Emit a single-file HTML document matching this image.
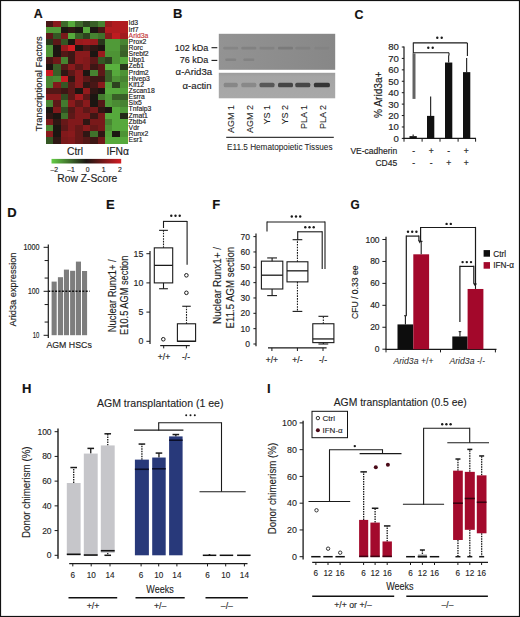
<!DOCTYPE html>
<html><head><meta charset="utf-8"><title>Figure</title><style>html,body{margin:0;padding:0;background:#fff;}body{width:520px;height:617px;overflow:hidden;}svg text{font-family:"Liberation Sans", sans-serif;}</style></head><body>
<svg width="520" height="617" viewBox="0 0 520 617" font-family='"Liberation Sans", sans-serif' fill="#1e1e1e" style="display:block">
<rect x="0.00" y="0.00" width="520.00" height="617.00" fill="#ffffff"/>
<text x="33.80" y="17.90" font-size="13" font-weight="bold" fill="#111" textLength="8.92" lengthAdjust="spacingAndGlyphs" stroke="#111" stroke-width="0.16">A</text>
<text transform="translate(42.00,83.70) rotate(-90)" font-size="9.4" text-anchor="middle" stroke="#1e1e1e" stroke-width="0.16">Transcriptional Factors</text>
<g shape-rendering="crispEdges">
<rect x="45.70" y="20.60" width="8.02" height="6.74" fill="#481716"/>
<rect x="53.12" y="20.60" width="8.02" height="6.74" fill="#891a1c"/>
<rect x="60.54" y="20.60" width="8.02" height="6.74" fill="#3d692a"/>
<rect x="67.96" y="20.60" width="8.02" height="6.74" fill="#56a93c"/>
<rect x="75.38" y="20.60" width="8.02" height="6.74" fill="#3d692a"/>
<rect x="82.80" y="20.60" width="8.02" height="6.74" fill="#2d421f"/>
<rect x="90.22" y="20.60" width="8.02" height="6.74" fill="#396027"/>
<rect x="97.64" y="20.60" width="8.02" height="6.74" fill="#478331"/>
<rect x="105.06" y="20.60" width="8.02" height="6.74" fill="#991a1d"/>
<rect x="112.48" y="20.60" width="8.02" height="6.74" fill="#b01b1f"/>
<rect x="119.90" y="20.60" width="8.02" height="6.74" fill="#b01b1f"/>
<rect x="45.70" y="26.74" width="8.02" height="6.74" fill="#509a38"/>
<rect x="53.12" y="26.74" width="8.02" height="6.74" fill="#509a38"/>
<rect x="60.54" y="26.74" width="8.02" height="6.74" fill="#1c1612"/>
<rect x="67.96" y="26.74" width="8.02" height="6.74" fill="#2f1714"/>
<rect x="75.38" y="26.74" width="8.02" height="6.74" fill="#1c1612"/>
<rect x="82.80" y="26.74" width="8.02" height="6.74" fill="#56a93c"/>
<rect x="90.22" y="26.74" width="8.02" height="6.74" fill="#1c1612"/>
<rect x="97.64" y="26.74" width="8.02" height="6.74" fill="#481716"/>
<rect x="105.06" y="26.74" width="8.02" height="6.74" fill="#b01b1f"/>
<rect x="112.48" y="26.74" width="8.02" height="6.74" fill="#b01b1f"/>
<rect x="119.90" y="26.74" width="8.02" height="6.74" fill="#b01b1f"/>
<rect x="45.70" y="32.88" width="8.02" height="6.74" fill="#5d1818"/>
<rect x="53.12" y="32.88" width="8.02" height="6.74" fill="#355724"/>
<rect x="60.54" y="32.88" width="8.02" height="6.74" fill="#79191a"/>
<rect x="67.96" y="32.88" width="8.02" height="6.74" fill="#56a93c"/>
<rect x="75.38" y="32.88" width="8.02" height="6.74" fill="#396027"/>
<rect x="82.80" y="32.88" width="8.02" height="6.74" fill="#2d421f"/>
<rect x="90.22" y="32.88" width="8.02" height="6.74" fill="#478331"/>
<rect x="97.64" y="32.88" width="8.02" height="6.74" fill="#40722c"/>
<rect x="105.06" y="32.88" width="8.02" height="6.74" fill="#891a1c"/>
<rect x="112.48" y="32.88" width="8.02" height="6.74" fill="#bf1b20"/>
<rect x="119.90" y="32.88" width="8.02" height="6.74" fill="#a11a1e"/>
<rect x="45.70" y="39.02" width="8.02" height="6.74" fill="#29371b"/>
<rect x="53.12" y="39.02" width="8.02" height="6.74" fill="#5d1818"/>
<rect x="60.54" y="39.02" width="8.02" height="6.74" fill="#355724"/>
<rect x="67.96" y="39.02" width="8.02" height="6.74" fill="#1c1612"/>
<rect x="75.38" y="39.02" width="8.02" height="6.74" fill="#991a1d"/>
<rect x="82.80" y="39.02" width="8.02" height="6.74" fill="#a11a1e"/>
<rect x="90.22" y="39.02" width="8.02" height="6.74" fill="#991a1d"/>
<rect x="97.64" y="39.02" width="8.02" height="6.74" fill="#29371b"/>
<rect x="105.06" y="39.02" width="8.02" height="6.74" fill="#509a38"/>
<rect x="112.48" y="39.02" width="8.02" height="6.74" fill="#509a38"/>
<rect x="119.90" y="39.02" width="8.02" height="6.74" fill="#478331"/>
<rect x="45.70" y="45.16" width="8.02" height="6.74" fill="#4d9335"/>
<rect x="53.12" y="45.16" width="8.02" height="6.74" fill="#1c1612"/>
<rect x="60.54" y="45.16" width="8.02" height="6.74" fill="#991a1d"/>
<rect x="67.96" y="45.16" width="8.02" height="6.74" fill="#d41c22"/>
<rect x="75.38" y="45.16" width="8.02" height="6.74" fill="#1c1612"/>
<rect x="82.80" y="45.16" width="8.02" height="6.74" fill="#481716"/>
<rect x="90.22" y="45.16" width="8.02" height="6.74" fill="#2f1714"/>
<rect x="97.64" y="45.16" width="8.02" height="6.74" fill="#1c1612"/>
<rect x="105.06" y="45.16" width="8.02" height="6.74" fill="#509a38"/>
<rect x="112.48" y="45.16" width="8.02" height="6.74" fill="#509a38"/>
<rect x="119.90" y="45.16" width="8.02" height="6.74" fill="#3d692a"/>
<rect x="45.70" y="51.30" width="8.02" height="6.74" fill="#4d9335"/>
<rect x="53.12" y="51.30" width="8.02" height="6.74" fill="#1c1612"/>
<rect x="60.54" y="51.30" width="8.02" height="6.74" fill="#531817"/>
<rect x="67.96" y="51.30" width="8.02" height="6.74" fill="#3d1715"/>
<rect x="75.38" y="51.30" width="8.02" height="6.74" fill="#891a1c"/>
<rect x="82.80" y="51.30" width="8.02" height="6.74" fill="#891a1c"/>
<rect x="90.22" y="51.30" width="8.02" height="6.74" fill="#1c1612"/>
<rect x="97.64" y="51.30" width="8.02" height="6.74" fill="#991a1d"/>
<rect x="105.06" y="51.30" width="8.02" height="6.74" fill="#4d9335"/>
<rect x="112.48" y="51.30" width="8.02" height="6.74" fill="#4d9335"/>
<rect x="119.90" y="51.30" width="8.02" height="6.74" fill="#396027"/>
<rect x="45.70" y="57.44" width="8.02" height="6.74" fill="#481716"/>
<rect x="53.12" y="57.44" width="8.02" height="6.74" fill="#701919"/>
<rect x="60.54" y="57.44" width="8.02" height="6.74" fill="#478331"/>
<rect x="67.96" y="57.44" width="8.02" height="6.74" fill="#3d1715"/>
<rect x="75.38" y="57.44" width="8.02" height="6.74" fill="#891a1c"/>
<rect x="82.80" y="57.44" width="8.02" height="6.74" fill="#81191b"/>
<rect x="90.22" y="57.44" width="8.02" height="6.74" fill="#5d1818"/>
<rect x="97.64" y="57.44" width="8.02" height="6.74" fill="#355724"/>
<rect x="105.06" y="57.44" width="8.02" height="6.74" fill="#2d421f"/>
<rect x="112.48" y="57.44" width="8.02" height="6.74" fill="#4d9335"/>
<rect x="119.90" y="57.44" width="8.02" height="6.74" fill="#56a93c"/>
<rect x="45.70" y="63.58" width="8.02" height="6.74" fill="#1c1612"/>
<rect x="53.12" y="63.58" width="8.02" height="6.74" fill="#396027"/>
<rect x="60.54" y="63.58" width="8.02" height="6.74" fill="#531817"/>
<rect x="67.96" y="63.58" width="8.02" height="6.74" fill="#891a1c"/>
<rect x="75.38" y="63.58" width="8.02" height="6.74" fill="#5d1818"/>
<rect x="82.80" y="63.58" width="8.02" height="6.74" fill="#81191b"/>
<rect x="90.22" y="63.58" width="8.02" height="6.74" fill="#3d1715"/>
<rect x="97.64" y="63.58" width="8.02" height="6.74" fill="#5d1818"/>
<rect x="105.06" y="63.58" width="8.02" height="6.74" fill="#59b13e"/>
<rect x="112.48" y="63.58" width="8.02" height="6.74" fill="#59b13e"/>
<rect x="119.90" y="63.58" width="8.02" height="6.74" fill="#29371b"/>
<rect x="45.70" y="69.72" width="8.02" height="6.74" fill="#c61c21"/>
<rect x="53.12" y="69.72" width="8.02" height="6.74" fill="#396027"/>
<rect x="60.54" y="69.72" width="8.02" height="6.74" fill="#2f1714"/>
<rect x="67.96" y="69.72" width="8.02" height="6.74" fill="#5d1818"/>
<rect x="75.38" y="69.72" width="8.02" height="6.74" fill="#891a1c"/>
<rect x="82.80" y="69.72" width="8.02" height="6.74" fill="#1c1612"/>
<rect x="90.22" y="69.72" width="8.02" height="6.74" fill="#478331"/>
<rect x="97.64" y="69.72" width="8.02" height="6.74" fill="#5d1818"/>
<rect x="105.06" y="69.72" width="8.02" height="6.74" fill="#396027"/>
<rect x="112.48" y="69.72" width="8.02" height="6.74" fill="#56a93c"/>
<rect x="119.90" y="69.72" width="8.02" height="6.74" fill="#4d9335"/>
<rect x="45.70" y="75.86" width="8.02" height="6.74" fill="#478331"/>
<rect x="53.12" y="75.86" width="8.02" height="6.74" fill="#4a8b33"/>
<rect x="60.54" y="75.86" width="8.02" height="6.74" fill="#c61c21"/>
<rect x="67.96" y="75.86" width="8.02" height="6.74" fill="#2f1714"/>
<rect x="75.38" y="75.86" width="8.02" height="6.74" fill="#891a1c"/>
<rect x="82.80" y="75.86" width="8.02" height="6.74" fill="#5d1818"/>
<rect x="90.22" y="75.86" width="8.02" height="6.74" fill="#3d1715"/>
<rect x="97.64" y="75.86" width="8.02" height="6.74" fill="#3d1715"/>
<rect x="105.06" y="75.86" width="8.02" height="6.74" fill="#396027"/>
<rect x="112.48" y="75.86" width="8.02" height="6.74" fill="#4d9335"/>
<rect x="119.90" y="75.86" width="8.02" height="6.74" fill="#478331"/>
<rect x="45.70" y="82.00" width="8.02" height="6.74" fill="#478331"/>
<rect x="53.12" y="82.00" width="8.02" height="6.74" fill="#81191b"/>
<rect x="60.54" y="82.00" width="8.02" height="6.74" fill="#355724"/>
<rect x="67.96" y="82.00" width="8.02" height="6.74" fill="#5d1818"/>
<rect x="75.38" y="82.00" width="8.02" height="6.74" fill="#891a1c"/>
<rect x="82.80" y="82.00" width="8.02" height="6.74" fill="#2f1714"/>
<rect x="90.22" y="82.00" width="8.02" height="6.74" fill="#481716"/>
<rect x="97.64" y="82.00" width="8.02" height="6.74" fill="#891a1c"/>
<rect x="105.06" y="82.00" width="8.02" height="6.74" fill="#53a23a"/>
<rect x="112.48" y="82.00" width="8.02" height="6.74" fill="#2d421f"/>
<rect x="119.90" y="82.00" width="8.02" height="6.74" fill="#4d9335"/>
<rect x="45.70" y="88.14" width="8.02" height="6.74" fill="#531817"/>
<rect x="53.12" y="88.14" width="8.02" height="6.74" fill="#531817"/>
<rect x="60.54" y="88.14" width="8.02" height="6.74" fill="#3d1715"/>
<rect x="67.96" y="88.14" width="8.02" height="6.74" fill="#5d1818"/>
<rect x="75.38" y="88.14" width="8.02" height="6.74" fill="#1c1612"/>
<rect x="82.80" y="88.14" width="8.02" height="6.74" fill="#921a1c"/>
<rect x="90.22" y="88.14" width="8.02" height="6.74" fill="#2f1714"/>
<rect x="97.64" y="88.14" width="8.02" height="6.74" fill="#1c1612"/>
<rect x="105.06" y="88.14" width="8.02" height="6.74" fill="#56a93c"/>
<rect x="112.48" y="88.14" width="8.02" height="6.74" fill="#56a93c"/>
<rect x="119.90" y="88.14" width="8.02" height="6.74" fill="#53a23a"/>
<rect x="45.70" y="94.28" width="8.02" height="6.74" fill="#891a1c"/>
<rect x="53.12" y="94.28" width="8.02" height="6.74" fill="#891a1c"/>
<rect x="60.54" y="94.28" width="8.02" height="6.74" fill="#324d22"/>
<rect x="67.96" y="94.28" width="8.02" height="6.74" fill="#5d1818"/>
<rect x="75.38" y="94.28" width="8.02" height="6.74" fill="#a11a1e"/>
<rect x="82.80" y="94.28" width="8.02" height="6.74" fill="#5d1818"/>
<rect x="90.22" y="94.28" width="8.02" height="6.74" fill="#1c1612"/>
<rect x="97.64" y="94.28" width="8.02" height="6.74" fill="#447b2f"/>
<rect x="105.06" y="94.28" width="8.02" height="6.74" fill="#509a38"/>
<rect x="112.48" y="94.28" width="8.02" height="6.74" fill="#396027"/>
<rect x="119.90" y="94.28" width="8.02" height="6.74" fill="#396027"/>
<rect x="45.70" y="100.42" width="8.02" height="6.74" fill="#478331"/>
<rect x="53.12" y="100.42" width="8.02" height="6.74" fill="#5d1818"/>
<rect x="60.54" y="100.42" width="8.02" height="6.74" fill="#447b2f"/>
<rect x="67.96" y="100.42" width="8.02" height="6.74" fill="#891a1c"/>
<rect x="75.38" y="100.42" width="8.02" height="6.74" fill="#5d1818"/>
<rect x="82.80" y="100.42" width="8.02" height="6.74" fill="#891a1c"/>
<rect x="90.22" y="100.42" width="8.02" height="6.74" fill="#1c1612"/>
<rect x="97.64" y="100.42" width="8.02" height="6.74" fill="#531817"/>
<rect x="105.06" y="100.42" width="8.02" height="6.74" fill="#509a38"/>
<rect x="112.48" y="100.42" width="8.02" height="6.74" fill="#4a8b33"/>
<rect x="119.90" y="100.42" width="8.02" height="6.74" fill="#478331"/>
<rect x="45.70" y="106.56" width="8.02" height="6.74" fill="#1c1612"/>
<rect x="53.12" y="106.56" width="8.02" height="6.74" fill="#81191b"/>
<rect x="60.54" y="106.56" width="8.02" height="6.74" fill="#324d22"/>
<rect x="67.96" y="106.56" width="8.02" height="6.74" fill="#531817"/>
<rect x="75.38" y="106.56" width="8.02" height="6.74" fill="#81191b"/>
<rect x="82.80" y="106.56" width="8.02" height="6.74" fill="#5d1818"/>
<rect x="90.22" y="106.56" width="8.02" height="6.74" fill="#79191a"/>
<rect x="97.64" y="106.56" width="8.02" height="6.74" fill="#2f1714"/>
<rect x="105.06" y="106.56" width="8.02" height="6.74" fill="#1c1612"/>
<rect x="112.48" y="106.56" width="8.02" height="6.74" fill="#56a93c"/>
<rect x="119.90" y="106.56" width="8.02" height="6.74" fill="#509a38"/>
<rect x="45.70" y="112.70" width="8.02" height="6.74" fill="#2f1714"/>
<rect x="53.12" y="112.70" width="8.02" height="6.74" fill="#1c1612"/>
<rect x="60.54" y="112.70" width="8.02" height="6.74" fill="#40722c"/>
<rect x="67.96" y="112.70" width="8.02" height="6.74" fill="#5d1818"/>
<rect x="75.38" y="112.70" width="8.02" height="6.74" fill="#81191b"/>
<rect x="82.80" y="112.70" width="8.02" height="6.74" fill="#81191b"/>
<rect x="90.22" y="112.70" width="8.02" height="6.74" fill="#3d1715"/>
<rect x="97.64" y="112.70" width="8.02" height="6.74" fill="#79191a"/>
<rect x="105.06" y="112.70" width="8.02" height="6.74" fill="#56a93c"/>
<rect x="112.48" y="112.70" width="8.02" height="6.74" fill="#56a93c"/>
<rect x="119.90" y="112.70" width="8.02" height="6.74" fill="#242917"/>
<rect x="45.70" y="118.84" width="8.02" height="6.74" fill="#79191a"/>
<rect x="53.12" y="118.84" width="8.02" height="6.74" fill="#2f1714"/>
<rect x="60.54" y="118.84" width="8.02" height="6.74" fill="#671818"/>
<rect x="67.96" y="118.84" width="8.02" height="6.74" fill="#81191b"/>
<rect x="75.38" y="118.84" width="8.02" height="6.74" fill="#81191b"/>
<rect x="82.80" y="118.84" width="8.02" height="6.74" fill="#2f1714"/>
<rect x="90.22" y="118.84" width="8.02" height="6.74" fill="#79191a"/>
<rect x="97.64" y="118.84" width="8.02" height="6.74" fill="#79191a"/>
<rect x="105.06" y="118.84" width="8.02" height="6.74" fill="#478331"/>
<rect x="112.48" y="118.84" width="8.02" height="6.74" fill="#56a93c"/>
<rect x="119.90" y="118.84" width="8.02" height="6.74" fill="#56a93c"/>
<rect x="45.70" y="124.98" width="8.02" height="6.74" fill="#478331"/>
<rect x="53.12" y="124.98" width="8.02" height="6.74" fill="#1c1612"/>
<rect x="60.54" y="124.98" width="8.02" height="6.74" fill="#5d1818"/>
<rect x="67.96" y="124.98" width="8.02" height="6.74" fill="#81191b"/>
<rect x="75.38" y="124.98" width="8.02" height="6.74" fill="#671818"/>
<rect x="82.80" y="124.98" width="8.02" height="6.74" fill="#891a1c"/>
<rect x="90.22" y="124.98" width="8.02" height="6.74" fill="#671818"/>
<rect x="97.64" y="124.98" width="8.02" height="6.74" fill="#79191a"/>
<rect x="105.06" y="124.98" width="8.02" height="6.74" fill="#4d9335"/>
<rect x="112.48" y="124.98" width="8.02" height="6.74" fill="#56a93c"/>
<rect x="119.90" y="124.98" width="8.02" height="6.74" fill="#56a93c"/>
<rect x="45.70" y="131.12" width="8.02" height="6.74" fill="#891a1c"/>
<rect x="53.12" y="131.12" width="8.02" height="6.74" fill="#1c1612"/>
<rect x="60.54" y="131.12" width="8.02" height="6.74" fill="#81191b"/>
<rect x="67.96" y="131.12" width="8.02" height="6.74" fill="#891a1c"/>
<rect x="75.38" y="131.12" width="8.02" height="6.74" fill="#671818"/>
<rect x="82.80" y="131.12" width="8.02" height="6.74" fill="#2f1714"/>
<rect x="90.22" y="131.12" width="8.02" height="6.74" fill="#40722c"/>
<rect x="97.64" y="131.12" width="8.02" height="6.74" fill="#2f1714"/>
<rect x="105.06" y="131.12" width="8.02" height="6.74" fill="#53a23a"/>
<rect x="112.48" y="131.12" width="8.02" height="6.74" fill="#1c1612"/>
<rect x="119.90" y="131.12" width="8.02" height="6.74" fill="#4d9335"/>
<rect x="45.70" y="137.26" width="8.02" height="6.74" fill="#355724"/>
<rect x="53.12" y="137.26" width="8.02" height="6.74" fill="#2f1714"/>
<rect x="60.54" y="137.26" width="8.02" height="6.74" fill="#79191a"/>
<rect x="67.96" y="137.26" width="8.02" height="6.74" fill="#81191b"/>
<rect x="75.38" y="137.26" width="8.02" height="6.74" fill="#671818"/>
<rect x="82.80" y="137.26" width="8.02" height="6.74" fill="#531817"/>
<rect x="90.22" y="137.26" width="8.02" height="6.74" fill="#3d1715"/>
<rect x="97.64" y="137.26" width="8.02" height="6.74" fill="#701919"/>
<rect x="105.06" y="137.26" width="8.02" height="6.74" fill="#56a93c"/>
<rect x="112.48" y="137.26" width="8.02" height="6.74" fill="#56a93c"/>
<rect x="119.90" y="137.26" width="8.02" height="6.74" fill="#56a93c"/>
</g>
<text x="128.60" y="25.47" font-size="6.8" stroke="#1e1e1e" stroke-width="0.16">Id3</text>
<text x="128.60" y="31.61" font-size="6.8" stroke="#1e1e1e" stroke-width="0.16">Irf7</text>
<text x="128.60" y="37.75" font-size="6.8" fill="#c83a3a" stroke="#c83a3a" stroke-width="0.16">Arid3a</text>
<text x="128.60" y="43.89" font-size="6.8" stroke="#1e1e1e" stroke-width="0.16">Prox2</text>
<text x="128.60" y="50.03" font-size="6.8" stroke="#1e1e1e" stroke-width="0.16">Rorc</text>
<text x="128.60" y="56.17" font-size="6.8" stroke="#1e1e1e" stroke-width="0.16">Srebf2</text>
<text x="128.60" y="62.31" font-size="6.8" stroke="#1e1e1e" stroke-width="0.16">Ubp1</text>
<text x="128.60" y="68.45" font-size="6.8" stroke="#1e1e1e" stroke-width="0.16">Zeb1</text>
<text x="128.60" y="74.59" font-size="6.8" stroke="#1e1e1e" stroke-width="0.16">Prdm2</text>
<text x="128.60" y="80.73" font-size="6.8" stroke="#1e1e1e" stroke-width="0.16">Hivep3</text>
<text x="128.60" y="86.87" font-size="6.8" stroke="#1e1e1e" stroke-width="0.16">Klf12</text>
<text x="128.60" y="93.01" font-size="6.8" stroke="#1e1e1e" stroke-width="0.16">Zscan18</text>
<text x="128.60" y="99.15" font-size="6.8" stroke="#1e1e1e" stroke-width="0.16">Esrra</text>
<text x="128.60" y="105.29" font-size="6.8" stroke="#1e1e1e" stroke-width="0.16">Six5</text>
<text x="128.60" y="111.43" font-size="6.8" stroke="#1e1e1e" stroke-width="0.16">Tnfaip3</text>
<text x="128.60" y="117.57" font-size="6.8" stroke="#1e1e1e" stroke-width="0.16">Zmat1</text>
<text x="128.60" y="123.71" font-size="6.8" stroke="#1e1e1e" stroke-width="0.16">Zbtb4</text>
<text x="128.60" y="129.85" font-size="6.8" stroke="#1e1e1e" stroke-width="0.16">Vdr</text>
<text x="128.60" y="135.99" font-size="6.8" stroke="#1e1e1e" stroke-width="0.16">Runx2</text>
<text x="128.60" y="142.13" font-size="6.8" stroke="#1e1e1e" stroke-width="0.16">Esr1</text>
<text x="75.00" y="154.90" font-size="10.3" text-anchor="middle" stroke="#1e1e1e" stroke-width="0.16">Ctrl</text>
<text x="117.70" y="154.90" font-size="10.3" text-anchor="middle" stroke="#1e1e1e" stroke-width="0.16">IFNα</text>
<defs><linearGradient id="gk" x1="0" x2="1" y1="0" y2="0"><stop offset="0" stop-color="#64cd46"/><stop offset="0.5" stop-color="#1c1612"/><stop offset="1" stop-color="#d41c22"/></linearGradient></defs>
<rect x="51.50" y="158.90" width="69.70" height="4.60" fill="url(#gk)"/>
<text x="54.20" y="171.50" font-size="6.8" text-anchor="middle" stroke="#1e1e1e" stroke-width="0.16">–2</text>
<text x="71.10" y="171.50" font-size="6.8" text-anchor="middle" stroke="#1e1e1e" stroke-width="0.16">–1</text>
<text x="87.70" y="171.50" font-size="6.8" text-anchor="middle" stroke="#1e1e1e" stroke-width="0.16">0</text>
<text x="103.60" y="171.50" font-size="6.8" text-anchor="middle" stroke="#1e1e1e" stroke-width="0.16">1</text>
<text x="120.00" y="171.50" font-size="6.8" text-anchor="middle" stroke="#1e1e1e" stroke-width="0.16">2</text>
<text x="87.30" y="182.30" font-size="10.3" text-anchor="middle" stroke="#1e1e1e" stroke-width="0.16">Row Z-Score</text>
<text x="173.00" y="17.90" font-size="13" font-weight="bold" fill="#111" stroke="#111" stroke-width="0.16">B</text>
<defs><linearGradient id="b1" x1="0" x2="1" y1="0" y2="0"><stop offset="0" stop-color="#939393"/><stop offset="0.5" stop-color="#8d8d8d"/><stop offset="1" stop-color="#878787"/></linearGradient><linearGradient id="b2" x1="0" x2="0" y1="0" y2="1"><stop offset="0" stop-color="#9c9c9c"/><stop offset="0.15" stop-color="#a5a5a5"/><stop offset="1" stop-color="#a8a8a8"/></linearGradient></defs>
<rect x="218.80" y="33.80" width="116.40" height="36.00" fill="url(#b1)"/>
<rect x="218.80" y="72.80" width="116.40" height="25.50" fill="url(#b2)"/>
<defs><filter id="bl" x="-20%" y="-100%" width="140%" height="300%"><feGaussianBlur stdDeviation="0.7"/></filter></defs>
<g filter="url(#bl)">
<rect x="223.70" y="82.7" width="14" height="4.6" rx="1.5" fill="#878787"/>
<rect x="241.30" y="82.7" width="15" height="4.6" rx="1.5" fill="#898989"/>
<rect x="259.50" y="82.7" width="15" height="4.6" rx="1.5" fill="#585858"/>
<rect x="278.00" y="82.7" width="15" height="4.6" rx="1.5" fill="#454545"/>
<rect x="295.30" y="82.7" width="15" height="4.6" rx="1.5" fill="#474747"/>
<rect x="313.90" y="82.7" width="16" height="4.6" rx="1.5" fill="#363636"/>
<rect x="223.20" y="46.8" width="15" height="2.6" rx="1" fill="#858585"/>
<rect x="241.30" y="46.8" width="15" height="2.6" rx="1" fill="#818181"/>
<rect x="259.50" y="46.8" width="15" height="2.6" rx="1" fill="#828282"/>
<rect x="278.00" y="46.8" width="15" height="2.6" rx="1" fill="#7a7a7a"/>
<rect x="295.30" y="46.8" width="15" height="2.6" rx="1" fill="#818181"/>
<rect x="314.40" y="46.8" width="15" height="2.6" rx="1" fill="#838383"/>
<rect x="225.20" y="58.5" width="11" height="2.6" rx="1" fill="#828282"/>
<rect x="243.30" y="58.5" width="11" height="2.6" rx="1" fill="#828282"/>
</g>
<text x="208.30" y="50.60" font-size="9.0" text-anchor="end" stroke="#1e1e1e" stroke-width="0.16">102 kDa</text>
<line x1="211.50" y1="47.70" x2="217.30" y2="47.70" stroke="#1a1a1a" stroke-width="1.1"/>
<text x="208.30" y="63.30" font-size="9.0" text-anchor="end" stroke="#1e1e1e" stroke-width="0.16">76 kDa</text>
<line x1="211.50" y1="60.40" x2="217.30" y2="60.40" stroke="#1a1a1a" stroke-width="1.1"/>
<text x="175.60" y="75.00" font-size="9.6" stroke="#1e1e1e" stroke-width="0.16">α-Arid3a</text>
<text x="211.60" y="89.00" font-size="9.6" text-anchor="end" stroke="#1e1e1e" stroke-width="0.16">α-actin</text>
<text transform="translate(233.70,105.00) rotate(-90)" font-size="9.0" text-anchor="end" stroke="#1e1e1e" stroke-width="0.08">AGM 1</text>
<text transform="translate(253.20,105.00) rotate(-90)" font-size="9.0" text-anchor="end" stroke="#1e1e1e" stroke-width="0.08">AGM 2</text>
<text transform="translate(270.20,105.00) rotate(-90)" font-size="9.0" text-anchor="end" stroke="#1e1e1e" stroke-width="0.08">YS 1</text>
<text transform="translate(288.20,105.00) rotate(-90)" font-size="9.0" text-anchor="end" stroke="#1e1e1e" stroke-width="0.08">YS 2</text>
<text transform="translate(307.20,105.00) rotate(-90)" font-size="9.0" text-anchor="end" stroke="#1e1e1e" stroke-width="0.08">PLA 1</text>
<text transform="translate(325.70,105.00) rotate(-90)" font-size="9.0" text-anchor="end" stroke="#1e1e1e" stroke-width="0.08">PLA 2</text>
<line x1="226.20" y1="137.30" x2="333.80" y2="137.30" stroke="#3a3a3a" stroke-width="1.3"/>
<text x="279.80" y="150.00" font-size="8.2" text-anchor="middle" stroke="#1e1e1e" stroke-width="0.06">E11.5 Hematopoietic Tissues</text>
<text x="354.40" y="18.60" font-size="13" font-weight="bold" fill="#111" textLength="8.95" lengthAdjust="spacingAndGlyphs" stroke="#111" stroke-width="0.16">C</text>
<line x1="404.00" y1="46.50" x2="404.00" y2="138.90" stroke="#1a1a1a" stroke-width="1.2"/>
<line x1="401.80" y1="138.40" x2="404.00" y2="138.40" stroke="#1a1a1a" stroke-width="1.0"/>
<text x="398.80" y="141.80" font-size="9.6" text-anchor="end" stroke="#1e1e1e" stroke-width="0.16">0</text>
<line x1="401.80" y1="126.98" x2="404.00" y2="126.98" stroke="#1a1a1a" stroke-width="1.0"/>
<text x="398.80" y="130.38" font-size="9.6" text-anchor="end" stroke="#1e1e1e" stroke-width="0.16">10</text>
<line x1="401.80" y1="115.55" x2="404.00" y2="115.55" stroke="#1a1a1a" stroke-width="1.0"/>
<text x="398.80" y="118.95" font-size="9.6" text-anchor="end" stroke="#1e1e1e" stroke-width="0.16">20</text>
<line x1="401.80" y1="104.12" x2="404.00" y2="104.12" stroke="#1a1a1a" stroke-width="1.0"/>
<text x="398.80" y="107.53" font-size="9.6" text-anchor="end" stroke="#1e1e1e" stroke-width="0.16">30</text>
<line x1="401.80" y1="92.70" x2="404.00" y2="92.70" stroke="#1a1a1a" stroke-width="1.0"/>
<text x="398.80" y="96.10" font-size="9.6" text-anchor="end" stroke="#1e1e1e" stroke-width="0.16">40</text>
<line x1="401.80" y1="81.28" x2="404.00" y2="81.28" stroke="#1a1a1a" stroke-width="1.0"/>
<text x="398.80" y="84.68" font-size="9.6" text-anchor="end" stroke="#1e1e1e" stroke-width="0.16">50</text>
<line x1="401.80" y1="69.85" x2="404.00" y2="69.85" stroke="#1a1a1a" stroke-width="1.0"/>
<text x="398.80" y="73.25" font-size="9.6" text-anchor="end" stroke="#1e1e1e" stroke-width="0.16">60</text>
<line x1="401.80" y1="58.42" x2="404.00" y2="58.42" stroke="#1a1a1a" stroke-width="1.0"/>
<text x="398.80" y="61.82" font-size="9.6" text-anchor="end" stroke="#1e1e1e" stroke-width="0.16">70</text>
<line x1="401.80" y1="47.00" x2="404.00" y2="47.00" stroke="#1a1a1a" stroke-width="1.0"/>
<text x="398.80" y="50.40" font-size="9.6" text-anchor="end" stroke="#1e1e1e" stroke-width="0.16">80</text>
<text transform="translate(382.30,94.70) rotate(-90)" font-size="10.0" text-anchor="middle" textLength="46.5" lengthAdjust="spacingAndGlyphs" stroke="#1e1e1e" stroke-width="0.16">% Arid3a+</text>
<line x1="403.50" y1="138.40" x2="476.00" y2="138.40" stroke="#1a1a1a" stroke-width="1.2"/>
<line x1="404.00" y1="138.40" x2="404.00" y2="141.70" stroke="#1a1a1a" stroke-width="1.0"/>
<line x1="422.10" y1="138.40" x2="422.10" y2="141.70" stroke="#1a1a1a" stroke-width="1.0"/>
<line x1="440.00" y1="138.40" x2="440.00" y2="141.70" stroke="#1a1a1a" stroke-width="1.0"/>
<line x1="458.10" y1="138.40" x2="458.10" y2="141.70" stroke="#1a1a1a" stroke-width="1.0"/>
<line x1="475.60" y1="138.40" x2="475.60" y2="141.70" stroke="#1a1a1a" stroke-width="1.0"/>
<rect x="409.50" y="136.12" width="7.30" height="2.28" fill="#111"/>
<line x1="413.15" y1="136.12" x2="413.15" y2="134.52" stroke="#1a1a1a" stroke-width="1.1"/>
<rect x="427.00" y="115.89" width="7.30" height="22.51" fill="#111"/>
<line x1="430.65" y1="115.89" x2="430.65" y2="96.47" stroke="#1a1a1a" stroke-width="1.1"/>
<rect x="445.00" y="62.54" width="7.30" height="75.86" fill="#111"/>
<line x1="448.65" y1="62.54" x2="448.65" y2="55.23" stroke="#1a1a1a" stroke-width="1.1"/>
<rect x="463.00" y="72.14" width="7.30" height="66.27" fill="#111"/>
<line x1="466.65" y1="72.14" x2="466.65" y2="58.08" stroke="#1a1a1a" stroke-width="1.1"/>
<line x1="413.30" y1="42.90" x2="467.40" y2="42.90" stroke="#1a1a1a" stroke-width="1.1"/>
<line x1="467.40" y1="42.90" x2="467.40" y2="56.10" stroke="#1a1a1a" stroke-width="1.1"/>
<line x1="413.30" y1="52.80" x2="449.00" y2="52.80" stroke="#1a1a1a" stroke-width="1.1"/>
<line x1="449.00" y1="52.80" x2="449.00" y2="55.50" stroke="#1a1a1a" stroke-width="1.1"/>
<line x1="413.30" y1="42.40" x2="413.30" y2="53.50" stroke="#1a1a1a" stroke-width="1.1"/>
<line x1="414.00" y1="53.40" x2="414.00" y2="98.90" stroke="#636363" stroke-width="3.0"/>
<circle cx="437.30" cy="37.70" r="1.2" fill="#1a1a1a"/>
<circle cx="441.70" cy="37.70" r="1.2" fill="#1a1a1a"/>
<circle cx="428.30" cy="47.80" r="1.2" fill="#1a1a1a"/>
<circle cx="432.70" cy="47.80" r="1.2" fill="#1a1a1a"/>
<text x="397.20" y="153.50" font-size="8.5" text-anchor="end" stroke="#1e1e1e" stroke-width="0.16">VE-cadherin</text>
<text x="397.20" y="166.10" font-size="8.5" text-anchor="end" stroke="#1e1e1e" stroke-width="0.16">CD45</text>
<text x="413.70" y="153.50" font-size="8.5" text-anchor="middle" stroke="#1e1e1e" stroke-width="0.16">-</text>
<text x="413.70" y="166.10" font-size="8.5" text-anchor="middle" stroke="#1e1e1e" stroke-width="0.16">-</text>
<text x="431.20" y="153.50" font-size="8.5" text-anchor="middle" stroke="#1e1e1e" stroke-width="0.16">+</text>
<text x="431.20" y="166.10" font-size="8.5" text-anchor="middle" stroke="#1e1e1e" stroke-width="0.16">-</text>
<text x="448.70" y="153.50" font-size="8.5" text-anchor="middle" stroke="#1e1e1e" stroke-width="0.16">-</text>
<text x="448.70" y="166.10" font-size="8.5" text-anchor="middle" stroke="#1e1e1e" stroke-width="0.16">+</text>
<text x="466.20" y="153.50" font-size="8.5" text-anchor="middle" stroke="#1e1e1e" stroke-width="0.16">+</text>
<text x="466.20" y="166.10" font-size="8.5" text-anchor="middle" stroke="#1e1e1e" stroke-width="0.16">+</text>
<text x="7.20" y="217.00" font-size="13" font-weight="bold" fill="#111" stroke="#111" stroke-width="0.16">D</text>
<line x1="48.30" y1="244.50" x2="48.30" y2="338.00" stroke="#1a1a1a" stroke-width="1.2"/>
<line x1="43.60" y1="247.30" x2="48.30" y2="247.30" stroke="#1a1a1a" stroke-width="1.0"/>
<text x="39.40" y="250.30" font-size="8.2" text-anchor="end" textLength="16.0" lengthAdjust="spacingAndGlyphs" stroke="#1e1e1e" stroke-width="0.16">1000</text>
<line x1="43.60" y1="291.30" x2="48.30" y2="291.30" stroke="#1a1a1a" stroke-width="1.0"/>
<text x="39.40" y="294.30" font-size="8.2" text-anchor="end" textLength="11.4" lengthAdjust="spacingAndGlyphs" stroke="#1e1e1e" stroke-width="0.16">100</text>
<line x1="43.60" y1="335.30" x2="48.30" y2="335.30" stroke="#1a1a1a" stroke-width="1.0"/>
<text x="39.40" y="338.30" font-size="8.2" text-anchor="end" textLength="6.6" lengthAdjust="spacingAndGlyphs" stroke="#1e1e1e" stroke-width="0.16">10</text>
<line x1="44.60" y1="260.55" x2="48.30" y2="260.55" stroke="#1a1a1a" stroke-width="1.0"/>
<line x1="44.60" y1="278.05" x2="48.30" y2="278.05" stroke="#1a1a1a" stroke-width="1.0"/>
<line x1="44.60" y1="304.55" x2="48.30" y2="304.55" stroke="#1a1a1a" stroke-width="1.0"/>
<line x1="44.60" y1="322.05" x2="48.30" y2="322.05" stroke="#1a1a1a" stroke-width="1.0"/>
<rect x="51.60" y="281.60" width="5.10" height="53.60" fill="#7d7d7d"/>
<rect x="57.90" y="277.20" width="5.10" height="58.00" fill="#7d7d7d"/>
<rect x="63.90" y="269.60" width="5.10" height="65.60" fill="#7d7d7d"/>
<rect x="70.10" y="270.80" width="5.10" height="64.40" fill="#7d7d7d"/>
<rect x="75.90" y="261.60" width="5.10" height="73.60" fill="#7d7d7d"/>
<rect x="82.00" y="271.00" width="5.10" height="64.20" fill="#7d7d7d"/>
<line x1="48.30" y1="291.30" x2="89.60" y2="291.30" stroke="#111" stroke-width="1.6" stroke-dasharray="2,1.4"/>
<text transform="translate(16.20,289.50) rotate(-90)" font-size="9.6" text-anchor="middle" textLength="74.0" lengthAdjust="spacingAndGlyphs" stroke="#1e1e1e" stroke-width="0.16">Arid3a expression</text>
<text x="69.10" y="348.40" font-size="9.8" text-anchor="middle" textLength="45.4" lengthAdjust="spacingAndGlyphs" stroke="#1e1e1e" stroke-width="0.16">AGM HSCs</text>
<text x="106.00" y="209.00" font-size="13" font-weight="bold" fill="#111" stroke="#111" stroke-width="0.16">E</text>
<line x1="150.00" y1="251.10" x2="150.00" y2="344.10" stroke="#1a1a1a" stroke-width="1.2"/>
<line x1="146.40" y1="341.30" x2="150.00" y2="341.30" stroke="#1a1a1a" stroke-width="1.0"/>
<text x="143.40" y="344.40" font-size="8.8" text-anchor="end" stroke="#1e1e1e" stroke-width="0.16">0</text>
<line x1="146.40" y1="312.10" x2="150.00" y2="312.10" stroke="#1a1a1a" stroke-width="1.0"/>
<text x="143.40" y="315.20" font-size="8.8" text-anchor="end" stroke="#1e1e1e" stroke-width="0.16">5</text>
<line x1="146.40" y1="282.90" x2="150.00" y2="282.90" stroke="#1a1a1a" stroke-width="1.0"/>
<text x="143.40" y="286.00" font-size="8.8" text-anchor="end" stroke="#1e1e1e" stroke-width="0.16">10</text>
<line x1="146.40" y1="253.70" x2="150.00" y2="253.70" stroke="#1a1a1a" stroke-width="1.0"/>
<text x="143.40" y="256.80" font-size="8.8" text-anchor="end" stroke="#1e1e1e" stroke-width="0.16">15</text>
<line x1="163.50" y1="247.86" x2="163.50" y2="230.34" stroke="#1a1a1a" stroke-width="1.1" stroke-dasharray="1.6,1.1"/>
<line x1="159.10" y1="230.34" x2="167.90" y2="230.34" stroke="#1a1a1a" stroke-width="1.1"/>
<line x1="163.50" y1="282.90" x2="163.50" y2="288.74" stroke="#1a1a1a" stroke-width="1.1"/>
<line x1="159.10" y1="288.74" x2="167.90" y2="288.74" stroke="#1a1a1a" stroke-width="1.1"/>
<rect x="154.30" y="247.86" width="18.40" height="35.04" fill="none" stroke="#1a1a1a" stroke-width="1.1"/>
<line x1="154.30" y1="265.38" x2="172.70" y2="265.38" stroke="#1a1a1a" stroke-width="1.3"/>
<circle cx="163.30" cy="339.26" r="1.8" fill="none" stroke="#1a1a1a" stroke-width="1.0"/>
<line x1="186.50" y1="323.78" x2="186.50" y2="306.26" stroke="#1a1a1a" stroke-width="1.1" stroke-dasharray="1.6,1.1"/>
<line x1="182.25" y1="306.26" x2="190.75" y2="306.26" stroke="#1a1a1a" stroke-width="1.1"/>
<rect x="177.40" y="323.78" width="18.20" height="17.52" fill="none" stroke="#1a1a1a" stroke-width="1.1"/>
<line x1="177.40" y1="341.30" x2="195.60" y2="341.30" stroke="#1a1a1a" stroke-width="1.3"/>
<circle cx="186.40" cy="292.83" r="1.8" fill="none" stroke="#1a1a1a" stroke-width="1.0"/>
<circle cx="186.40" cy="275.31" r="1.8" fill="none" stroke="#1a1a1a" stroke-width="1.0"/>
<line x1="163.50" y1="221.40" x2="187.10" y2="221.40" stroke="#1a1a1a" stroke-width="1.1"/>
<line x1="163.50" y1="220.90" x2="163.50" y2="228.00" stroke="#1a1a1a" stroke-width="1.1"/>
<line x1="187.10" y1="220.90" x2="187.10" y2="264.70" stroke="#1a1a1a" stroke-width="1.1"/>
<circle cx="171.30" cy="215.70" r="1.2" fill="#1a1a1a"/>
<circle cx="175.50" cy="215.70" r="1.2" fill="#1a1a1a"/>
<circle cx="179.70" cy="215.70" r="1.2" fill="#1a1a1a"/>
<line x1="160.20" y1="345.60" x2="189.80" y2="345.60" stroke="#1a1a1a" stroke-width="1.2"/>
<line x1="163.70" y1="345.60" x2="163.70" y2="348.40" stroke="#1a1a1a" stroke-width="1.0"/>
<line x1="186.40" y1="345.60" x2="186.40" y2="348.40" stroke="#1a1a1a" stroke-width="1.0"/>
<text x="164.00" y="359.70" font-size="8.5" text-anchor="middle" stroke="#1e1e1e" stroke-width="0.16">+/+</text>
<text x="186.00" y="359.70" font-size="8.5" text-anchor="middle" stroke="#1e1e1e" stroke-width="0.16">-/-</text>
<text transform="translate(116.20,295.80) rotate(-90)" font-size="10.2" text-anchor="middle" textLength="72.8" lengthAdjust="spacingAndGlyphs" stroke="#1e1e1e" stroke-width="0.16">Nuclear Runx1+ /</text>
<text transform="translate(128.30,295.30) rotate(-90)" font-size="10.2" text-anchor="middle" textLength="79.2" lengthAdjust="spacingAndGlyphs" stroke="#1e1e1e" stroke-width="0.16">E10.5 AGM section</text>
<text x="212.20" y="209.00" font-size="13" font-weight="bold" fill="#111" stroke="#111" stroke-width="0.16">F</text>
<line x1="256.00" y1="233.40" x2="256.00" y2="346.20" stroke="#1a1a1a" stroke-width="1.2"/>
<line x1="253.40" y1="344.00" x2="256.00" y2="344.00" stroke="#1a1a1a" stroke-width="1.0"/>
<text x="249.90" y="347.00" font-size="8.5" text-anchor="end" stroke="#1e1e1e" stroke-width="0.16">0</text>
<line x1="253.40" y1="328.66" x2="256.00" y2="328.66" stroke="#1a1a1a" stroke-width="1.0"/>
<text x="249.90" y="331.66" font-size="8.5" text-anchor="end" stroke="#1e1e1e" stroke-width="0.16">10</text>
<line x1="253.40" y1="313.32" x2="256.00" y2="313.32" stroke="#1a1a1a" stroke-width="1.0"/>
<text x="249.90" y="316.32" font-size="8.5" text-anchor="end" stroke="#1e1e1e" stroke-width="0.16">20</text>
<line x1="253.40" y1="297.98" x2="256.00" y2="297.98" stroke="#1a1a1a" stroke-width="1.0"/>
<text x="249.90" y="300.98" font-size="8.5" text-anchor="end" stroke="#1e1e1e" stroke-width="0.16">30</text>
<line x1="253.40" y1="282.64" x2="256.00" y2="282.64" stroke="#1a1a1a" stroke-width="1.0"/>
<text x="249.90" y="285.64" font-size="8.5" text-anchor="end" stroke="#1e1e1e" stroke-width="0.16">40</text>
<line x1="253.40" y1="267.30" x2="256.00" y2="267.30" stroke="#1a1a1a" stroke-width="1.0"/>
<text x="249.90" y="270.30" font-size="8.5" text-anchor="end" stroke="#1e1e1e" stroke-width="0.16">50</text>
<line x1="253.40" y1="251.96" x2="256.00" y2="251.96" stroke="#1a1a1a" stroke-width="1.0"/>
<text x="249.90" y="254.96" font-size="8.5" text-anchor="end" stroke="#1e1e1e" stroke-width="0.16">60</text>
<line x1="253.40" y1="236.62" x2="256.00" y2="236.62" stroke="#1a1a1a" stroke-width="1.0"/>
<text x="249.90" y="239.62" font-size="8.5" text-anchor="end" stroke="#1e1e1e" stroke-width="0.16">70</text>
<line x1="272.10" y1="261.16" x2="272.10" y2="257.94" stroke="#1a1a1a" stroke-width="1.1"/>
<line x1="267.20" y1="257.94" x2="277.00" y2="257.94" stroke="#1a1a1a" stroke-width="1.1"/>
<line x1="272.10" y1="289.01" x2="272.10" y2="295.60" stroke="#1a1a1a" stroke-width="1.1"/>
<line x1="267.20" y1="295.60" x2="277.00" y2="295.60" stroke="#1a1a1a" stroke-width="1.1"/>
<rect x="261.40" y="261.16" width="21.40" height="27.84" fill="none" stroke="#1a1a1a" stroke-width="1.1"/>
<line x1="261.40" y1="275.20" x2="282.80" y2="275.20" stroke="#1a1a1a" stroke-width="1.3"/>
<line x1="297.45" y1="261.78" x2="297.45" y2="239.69" stroke="#1a1a1a" stroke-width="1.1" stroke-dasharray="1.6,1.1"/>
<line x1="292.60" y1="239.69" x2="302.30" y2="239.69" stroke="#1a1a1a" stroke-width="1.1"/>
<line x1="297.45" y1="281.87" x2="297.45" y2="311.40" stroke="#1a1a1a" stroke-width="1.1" stroke-dasharray="1.6,1.1"/>
<line x1="292.60" y1="311.40" x2="302.30" y2="311.40" stroke="#1a1a1a" stroke-width="1.1"/>
<rect x="287.00" y="261.78" width="20.90" height="20.10" fill="none" stroke="#1a1a1a" stroke-width="1.1"/>
<line x1="287.00" y1="270.83" x2="307.90" y2="270.83" stroke="#1a1a1a" stroke-width="1.3"/>
<line x1="323.35" y1="323.75" x2="323.35" y2="316.31" stroke="#1a1a1a" stroke-width="1.1" stroke-dasharray="1.6,1.1"/>
<line x1="318.45" y1="316.31" x2="328.25" y2="316.31" stroke="#1a1a1a" stroke-width="1.1"/>
<line x1="323.35" y1="342.62" x2="323.35" y2="344.00" stroke="#1a1a1a" stroke-width="1.1" stroke-dasharray="1.6,1.1"/>
<line x1="318.45" y1="344.00" x2="328.25" y2="344.00" stroke="#1a1a1a" stroke-width="1.1"/>
<rect x="312.80" y="323.75" width="21.10" height="18.87" fill="none" stroke="#1a1a1a" stroke-width="1.1"/>
<line x1="312.80" y1="338.94" x2="333.90" y2="338.94" stroke="#1a1a1a" stroke-width="1.3"/>
<line x1="267.00" y1="222.00" x2="325.00" y2="222.00" stroke="#1a1a1a" stroke-width="1.1"/>
<line x1="267.00" y1="221.50" x2="267.00" y2="231.40" stroke="#1a1a1a" stroke-width="1.1"/>
<line x1="325.00" y1="221.50" x2="325.00" y2="268.90" stroke="#1a1a1a" stroke-width="1.1"/>
<line x1="297.70" y1="231.80" x2="322.20" y2="231.80" stroke="#1a1a1a" stroke-width="1.1"/>
<line x1="297.70" y1="231.30" x2="297.70" y2="239.70" stroke="#1a1a1a" stroke-width="1.1"/>
<line x1="322.20" y1="231.30" x2="322.20" y2="268.90" stroke="#1a1a1a" stroke-width="1.1"/>
<circle cx="291.80" cy="216.50" r="1.2" fill="#1a1a1a"/>
<circle cx="296.00" cy="216.50" r="1.2" fill="#1a1a1a"/>
<circle cx="300.20" cy="216.50" r="1.2" fill="#1a1a1a"/>
<circle cx="305.30" cy="227.20" r="1.2" fill="#1a1a1a"/>
<circle cx="309.50" cy="227.20" r="1.2" fill="#1a1a1a"/>
<circle cx="313.70" cy="227.20" r="1.2" fill="#1a1a1a"/>
<line x1="268.00" y1="347.90" x2="326.60" y2="347.90" stroke="#1a1a1a" stroke-width="1.2"/>
<line x1="271.90" y1="347.90" x2="271.90" y2="351.00" stroke="#1a1a1a" stroke-width="1.0"/>
<line x1="297.40" y1="347.90" x2="297.40" y2="351.00" stroke="#1a1a1a" stroke-width="1.0"/>
<line x1="323.00" y1="347.90" x2="323.00" y2="351.00" stroke="#1a1a1a" stroke-width="1.0"/>
<text x="271.90" y="362.50" font-size="8.5" text-anchor="middle" stroke="#1e1e1e" stroke-width="0.16">+/+</text>
<text x="297.40" y="362.50" font-size="8.5" text-anchor="middle" stroke="#1e1e1e" stroke-width="0.16">+/-</text>
<text x="323.00" y="362.50" font-size="8.5" text-anchor="middle" stroke="#1e1e1e" stroke-width="0.16">-/-</text>
<text transform="translate(221.20,285.40) rotate(-90)" font-size="10.5" text-anchor="middle" textLength="77.0" lengthAdjust="spacingAndGlyphs" stroke="#1e1e1e" stroke-width="0.16">Nuclear Runx1+ /</text>
<text transform="translate(233.70,287.60) rotate(-90)" font-size="10.5" text-anchor="middle" textLength="81.6" lengthAdjust="spacingAndGlyphs" stroke="#1e1e1e" stroke-width="0.16">E11.5 AGM section</text>
<text x="350.60" y="208.70" font-size="13" font-weight="bold" fill="#111" textLength="9.2" lengthAdjust="spacingAndGlyphs" stroke="#111" stroke-width="0.16">G</text>
<line x1="386.00" y1="236.80" x2="386.00" y2="349.70" stroke="#1a1a1a" stroke-width="1.2"/>
<line x1="382.40" y1="349.20" x2="386.00" y2="349.20" stroke="#1a1a1a" stroke-width="1.0"/>
<text x="379.60" y="352.20" font-size="8.5" text-anchor="end" stroke="#1e1e1e" stroke-width="0.16">0</text>
<line x1="382.40" y1="327.26" x2="386.00" y2="327.26" stroke="#1a1a1a" stroke-width="1.0"/>
<text x="379.60" y="330.26" font-size="8.5" text-anchor="end" stroke="#1e1e1e" stroke-width="0.16">20</text>
<line x1="382.40" y1="305.32" x2="386.00" y2="305.32" stroke="#1a1a1a" stroke-width="1.0"/>
<text x="379.60" y="308.32" font-size="8.5" text-anchor="end" stroke="#1e1e1e" stroke-width="0.16">40</text>
<line x1="382.40" y1="283.38" x2="386.00" y2="283.38" stroke="#1a1a1a" stroke-width="1.0"/>
<text x="379.60" y="286.38" font-size="8.5" text-anchor="end" stroke="#1e1e1e" stroke-width="0.16">60</text>
<line x1="382.40" y1="261.44" x2="386.00" y2="261.44" stroke="#1a1a1a" stroke-width="1.0"/>
<text x="379.60" y="264.44" font-size="8.5" text-anchor="end" stroke="#1e1e1e" stroke-width="0.16">80</text>
<line x1="382.40" y1="239.50" x2="386.00" y2="239.50" stroke="#1a1a1a" stroke-width="1.0"/>
<text x="379.60" y="242.50" font-size="8.5" text-anchor="end" stroke="#1e1e1e" stroke-width="0.16">100</text>
<text transform="translate(358.40,292.30) rotate(-90)" font-size="8.6" text-anchor="middle" stroke="#1e1e1e" stroke-width="0.16">CFU / 0.33 ee</text>
<line x1="385.50" y1="349.40" x2="496.50" y2="349.40" stroke="#1a1a1a" stroke-width="1.2"/>
<line x1="386.00" y1="349.40" x2="386.00" y2="352.40" stroke="#1a1a1a" stroke-width="1.0"/>
<line x1="440.50" y1="349.40" x2="440.50" y2="352.40" stroke="#1a1a1a" stroke-width="1.0"/>
<line x1="495.40" y1="349.40" x2="495.40" y2="352.40" stroke="#1a1a1a" stroke-width="1.0"/>
<rect x="397.50" y="324.41" width="15.80" height="24.79" fill="#0d0d0d"/>
<line x1="405.40" y1="324.41" x2="405.40" y2="315.74" stroke="#1a1a1a" stroke-width="1.1"/>
<line x1="404.10" y1="315.74" x2="406.70" y2="315.74" stroke="#1a1a1a" stroke-width="1.0"/>
<rect x="413.30" y="254.31" width="15.80" height="94.89" fill="#a3082b"/>
<line x1="421.20" y1="254.31" x2="421.20" y2="241.36" stroke="#1a1a1a" stroke-width="1.1"/>
<line x1="419.90" y1="241.36" x2="422.50" y2="241.36" stroke="#1a1a1a" stroke-width="1.0"/>
<rect x="452.30" y="336.47" width="15.30" height="12.73" fill="#0d0d0d"/>
<line x1="459.95" y1="336.47" x2="459.95" y2="331.65" stroke="#1a1a1a" stroke-width="1.1"/>
<line x1="458.65" y1="331.65" x2="461.25" y2="331.65" stroke="#1a1a1a" stroke-width="1.0"/>
<rect x="467.60" y="288.97" width="15.80" height="60.23" fill="#a3082b"/>
<line x1="475.50" y1="288.97" x2="475.50" y2="284.04" stroke="#1a1a1a" stroke-width="1.1"/>
<line x1="474.20" y1="284.04" x2="476.80" y2="284.04" stroke="#1a1a1a" stroke-width="1.0"/>
<line x1="406.30" y1="236.10" x2="418.90" y2="236.10" stroke="#1a1a1a" stroke-width="1.2"/>
<line x1="406.30" y1="235.50" x2="406.30" y2="315.80" stroke="#1a1a1a" stroke-width="1.2"/>
<line x1="418.90" y1="235.50" x2="418.90" y2="241.00" stroke="#1a1a1a" stroke-width="1.2"/>
<line x1="420.60" y1="227.50" x2="475.50" y2="227.50" stroke="#1a1a1a" stroke-width="1.2"/>
<line x1="420.60" y1="226.90" x2="420.60" y2="241.50" stroke="#1a1a1a" stroke-width="1.2"/>
<line x1="475.50" y1="226.90" x2="475.50" y2="284.00" stroke="#1a1a1a" stroke-width="1.2"/>
<line x1="459.90" y1="266.40" x2="473.80" y2="266.40" stroke="#1a1a1a" stroke-width="1.2"/>
<line x1="459.90" y1="265.80" x2="459.90" y2="322.00" stroke="#1a1a1a" stroke-width="1.2"/>
<line x1="473.80" y1="265.80" x2="473.80" y2="283.50" stroke="#1a1a1a" stroke-width="1.2"/>
<path d="M418.15 240.60 L421.35 240.60 L419.75 243.40 Z" fill="#1a1a1a"/>
<path d="M473.05 283.20 L476.25 283.20 L474.65 286.00 Z" fill="#1a1a1a"/>
<circle cx="408.00" cy="231.70" r="1.2" fill="#1a1a1a"/>
<circle cx="412.20" cy="231.70" r="1.2" fill="#1a1a1a"/>
<circle cx="416.40" cy="231.70" r="1.2" fill="#1a1a1a"/>
<circle cx="446.60" cy="223.90" r="1.2" fill="#1a1a1a"/>
<circle cx="450.80" cy="223.90" r="1.2" fill="#1a1a1a"/>
<circle cx="462.60" cy="262.10" r="1.2" fill="#1a1a1a"/>
<circle cx="466.80" cy="262.10" r="1.2" fill="#1a1a1a"/>
<circle cx="471.00" cy="262.10" r="1.2" fill="#1a1a1a"/>
<rect x="483.60" y="250.10" width="6.40" height="6.60" fill="#0d0d0d"/>
<rect x="483.60" y="262.10" width="6.40" height="6.60" fill="#a3082b"/>
<text x="493.30" y="256.60" font-size="8.2" stroke="#1e1e1e" stroke-width="0.16">Ctrl</text>
<text x="493.30" y="268.20" font-size="8.2" stroke="#1e1e1e" stroke-width="0.16">IFN-α</text>
<text x="393.4" y="363.5" font-size="8.7"><tspan font-style="italic">Arid3a</tspan> +/+</text>
<text x="449.4" y="363.5" font-size="8.7"><tspan font-style="italic">Arid3a</tspan> -/-</text>
<text x="21.90" y="393.00" font-size="13" font-weight="bold" fill="#111" stroke="#111" stroke-width="0.16">H</text>
<text x="160.20" y="406.60" font-size="10.5" text-anchor="middle" textLength="126.6" lengthAdjust="spacingAndGlyphs" stroke="#1e1e1e" stroke-width="0.12">AGM transplantation (1 ee)</text>
<line x1="58.00" y1="428.60" x2="58.00" y2="558.70" stroke="#1a1a1a" stroke-width="1.4"/>
<line x1="54.60" y1="555.30" x2="58.00" y2="555.30" stroke="#1a1a1a" stroke-width="1.0"/>
<text x="51.60" y="558.30" font-size="8.5" text-anchor="end" stroke="#1e1e1e" stroke-width="0.12">0</text>
<line x1="54.60" y1="530.58" x2="58.00" y2="530.58" stroke="#1a1a1a" stroke-width="1.0"/>
<text x="51.60" y="533.58" font-size="8.5" text-anchor="end" stroke="#1e1e1e" stroke-width="0.12">20</text>
<line x1="54.60" y1="505.86" x2="58.00" y2="505.86" stroke="#1a1a1a" stroke-width="1.0"/>
<text x="51.60" y="508.86" font-size="8.5" text-anchor="end" stroke="#1e1e1e" stroke-width="0.12">40</text>
<line x1="54.60" y1="481.14" x2="58.00" y2="481.14" stroke="#1a1a1a" stroke-width="1.0"/>
<text x="51.60" y="484.14" font-size="8.5" text-anchor="end" stroke="#1e1e1e" stroke-width="0.12">60</text>
<line x1="54.60" y1="456.42" x2="58.00" y2="456.42" stroke="#1a1a1a" stroke-width="1.0"/>
<text x="51.60" y="459.42" font-size="8.5" text-anchor="end" stroke="#1e1e1e" stroke-width="0.12">80</text>
<line x1="54.60" y1="431.70" x2="58.00" y2="431.70" stroke="#1a1a1a" stroke-width="1.0"/>
<text x="51.60" y="434.70" font-size="8.5" text-anchor="end" stroke="#1e1e1e" stroke-width="0.12">100</text>
<text transform="translate(30.00,492.20) rotate(-90)" font-size="10.6" text-anchor="middle" textLength="91.5" lengthAdjust="spacingAndGlyphs" stroke="#1e1e1e" stroke-width="0.12">Donor chimerism (%)</text>
<line x1="73.70" y1="482.99" x2="73.70" y2="467.54" stroke="#1a1a1a" stroke-width="1.3" stroke-dasharray="1.5,1.0"/>
<line x1="70.40" y1="467.54" x2="77.00" y2="467.54" stroke="#1a1a1a" stroke-width="1.5"/>
<rect x="66.80" y="482.99" width="13.80" height="72.31" fill="#c6c6ca"/>
<line x1="66.80" y1="554.31" x2="80.60" y2="554.31" stroke="#111" stroke-width="1.6"/>
<line x1="90.75" y1="453.58" x2="90.75" y2="448.39" stroke="#1a1a1a" stroke-width="1.3"/>
<line x1="87.45" y1="448.39" x2="94.05" y2="448.39" stroke="#1a1a1a" stroke-width="1.5"/>
<rect x="83.80" y="453.58" width="13.90" height="101.72" fill="#c6c6ca"/>
<line x1="83.80" y1="555.05" x2="97.70" y2="555.05" stroke="#111" stroke-width="1.6"/>
<line x1="107.75" y1="445.42" x2="107.75" y2="433.80" stroke="#1a1a1a" stroke-width="1.3" stroke-dasharray="1.5,1.0"/>
<line x1="104.45" y1="433.80" x2="111.05" y2="433.80" stroke="#1a1a1a" stroke-width="1.5"/>
<line x1="107.75" y1="552.83" x2="107.75" y2="555.30" stroke="#1a1a1a" stroke-width="1.3" stroke-dasharray="1.5,1.0"/>
<line x1="104.45" y1="555.30" x2="111.05" y2="555.30" stroke="#1a1a1a" stroke-width="1.5"/>
<rect x="100.80" y="445.42" width="13.90" height="107.41" fill="#c6c6ca"/>
<line x1="100.80" y1="550.73" x2="114.70" y2="550.73" stroke="#111" stroke-width="1.6"/>
<line x1="141.90" y1="459.63" x2="141.90" y2="444.06" stroke="#1a1a1a" stroke-width="1.3" stroke-dasharray="1.5,1.0"/>
<line x1="138.60" y1="444.06" x2="145.20" y2="444.06" stroke="#1a1a1a" stroke-width="1.5"/>
<rect x="134.90" y="459.63" width="14.00" height="95.67" fill="#28397a"/>
<line x1="134.90" y1="469.27" x2="148.90" y2="469.27" stroke="#0b0f2a" stroke-width="1.6"/>
<line x1="158.95" y1="457.53" x2="158.95" y2="453.08" stroke="#1a1a1a" stroke-width="1.3"/>
<line x1="155.65" y1="453.08" x2="162.25" y2="453.08" stroke="#1a1a1a" stroke-width="1.5"/>
<rect x="152.20" y="457.53" width="13.50" height="97.77" fill="#28397a"/>
<line x1="152.20" y1="468.78" x2="165.70" y2="468.78" stroke="#0b0f2a" stroke-width="1.6"/>
<line x1="175.85" y1="436.40" x2="175.85" y2="434.54" stroke="#1a1a1a" stroke-width="1.3"/>
<line x1="172.55" y1="434.54" x2="179.15" y2="434.54" stroke="#1a1a1a" stroke-width="1.5"/>
<rect x="169.10" y="436.40" width="13.50" height="118.90" fill="#28397a"/>
<line x1="169.10" y1="440.23" x2="182.60" y2="440.23" stroke="#0b0f2a" stroke-width="1.6"/>
<line x1="202.80" y1="555.30" x2="216.30" y2="555.30" stroke="#111" stroke-width="1.5"/>
<line x1="219.70" y1="555.30" x2="233.20" y2="555.30" stroke="#111" stroke-width="1.5"/>
<line x1="237.10" y1="555.30" x2="250.60" y2="555.30" stroke="#111" stroke-width="1.5"/>
<circle cx="209.50" cy="554.93" r="1.0" fill="#111"/>
<line x1="134.00" y1="430.10" x2="183.40" y2="430.10" stroke="#1a1a1a" stroke-width="1.1"/>
<line x1="158.70" y1="430.60" x2="158.70" y2="422.80" stroke="#1a1a1a" stroke-width="1.1"/>
<line x1="158.20" y1="422.80" x2="221.50" y2="422.80" stroke="#1a1a1a" stroke-width="1.1"/>
<line x1="221.50" y1="422.30" x2="221.50" y2="491.70" stroke="#1a1a1a" stroke-width="1.1"/>
<line x1="199.50" y1="491.70" x2="245.70" y2="491.70" stroke="#1a1a1a" stroke-width="1.1"/>
<circle cx="186.20" cy="415.30" r="1.0" fill="#1a1a1a"/>
<circle cx="190.50" cy="415.30" r="1.0" fill="#1a1a1a"/>
<circle cx="194.80" cy="415.30" r="1.0" fill="#1a1a1a"/>
<line x1="69.20" y1="563.60" x2="247.50" y2="563.60" stroke="#1a1a1a" stroke-width="1.2"/>
<line x1="72.80" y1="563.40" x2="72.80" y2="566.40" stroke="#1a1a1a" stroke-width="1.0"/>
<text x="72.80" y="578.40" font-size="8.2" text-anchor="middle" stroke="#1e1e1e" stroke-width="0.12">6</text>
<line x1="91.20" y1="563.40" x2="91.20" y2="566.40" stroke="#1a1a1a" stroke-width="1.0"/>
<text x="91.20" y="578.40" font-size="8.2" text-anchor="middle" stroke="#1e1e1e" stroke-width="0.12">10</text>
<line x1="110.00" y1="563.40" x2="110.00" y2="566.40" stroke="#1a1a1a" stroke-width="1.0"/>
<text x="110.00" y="578.40" font-size="8.2" text-anchor="middle" stroke="#1e1e1e" stroke-width="0.12">14</text>
<line x1="141.10" y1="563.40" x2="141.10" y2="566.40" stroke="#1a1a1a" stroke-width="1.0"/>
<text x="141.10" y="578.40" font-size="8.2" text-anchor="middle" stroke="#1e1e1e" stroke-width="0.12">6</text>
<line x1="158.70" y1="563.40" x2="158.70" y2="566.40" stroke="#1a1a1a" stroke-width="1.0"/>
<text x="158.70" y="578.40" font-size="8.2" text-anchor="middle" stroke="#1e1e1e" stroke-width="0.12">10</text>
<line x1="176.90" y1="563.40" x2="176.90" y2="566.40" stroke="#1a1a1a" stroke-width="1.0"/>
<text x="176.90" y="578.40" font-size="8.2" text-anchor="middle" stroke="#1e1e1e" stroke-width="0.12">14</text>
<line x1="207.50" y1="563.40" x2="207.50" y2="566.40" stroke="#1a1a1a" stroke-width="1.0"/>
<text x="207.50" y="578.40" font-size="8.2" text-anchor="middle" stroke="#1e1e1e" stroke-width="0.12">6</text>
<line x1="225.70" y1="563.40" x2="225.70" y2="566.40" stroke="#1a1a1a" stroke-width="1.0"/>
<text x="225.70" y="578.40" font-size="8.2" text-anchor="middle" stroke="#1e1e1e" stroke-width="0.12">10</text>
<line x1="244.40" y1="563.40" x2="244.40" y2="566.40" stroke="#1a1a1a" stroke-width="1.0"/>
<text x="244.40" y="578.40" font-size="8.2" text-anchor="middle" stroke="#1e1e1e" stroke-width="0.12">14</text>
<text x="160.00" y="592.60" font-size="10.0" text-anchor="middle" textLength="27.3" lengthAdjust="spacingAndGlyphs" stroke="#1e1e1e" stroke-width="0.12">Weeks</text>
<line x1="68.50" y1="597.70" x2="117.20" y2="597.70" stroke="#111" stroke-width="1.5"/>
<line x1="135.50" y1="597.70" x2="184.70" y2="597.70" stroke="#111" stroke-width="1.5"/>
<line x1="205.50" y1="597.70" x2="247.90" y2="597.70" stroke="#111" stroke-width="1.5"/>
<text x="93.00" y="609.00" font-size="8.8" text-anchor="middle" stroke="#1e1e1e" stroke-width="0.12">+/+</text>
<text x="160.20" y="609.00" font-size="8.8" text-anchor="middle" stroke="#1e1e1e" stroke-width="0.12">+/–</text>
<text x="226.90" y="609.00" font-size="8.8" text-anchor="middle" stroke="#1e1e1e" stroke-width="0.12">–/–</text>
<text x="266.90" y="393.00" font-size="13" font-weight="bold" fill="#111" stroke="#111" stroke-width="0.12">I</text>
<text x="400.20" y="406.30" font-size="10.4" text-anchor="middle" textLength="133.0" lengthAdjust="spacingAndGlyphs" stroke="#1e1e1e" stroke-width="0.12">AGM transplantation (0.5 ee)</text>
<line x1="303.10" y1="420.80" x2="303.10" y2="559.40" stroke="#1a1a1a" stroke-width="1.3"/>
<line x1="299.60" y1="556.70" x2="303.10" y2="556.70" stroke="#1a1a1a" stroke-width="1.0"/>
<text x="296.90" y="559.80" font-size="8.9" text-anchor="end" stroke="#1e1e1e" stroke-width="0.12">0</text>
<line x1="299.60" y1="529.94" x2="303.10" y2="529.94" stroke="#1a1a1a" stroke-width="1.0"/>
<text x="296.90" y="533.04" font-size="8.9" text-anchor="end" stroke="#1e1e1e" stroke-width="0.12">20</text>
<line x1="299.60" y1="503.18" x2="303.10" y2="503.18" stroke="#1a1a1a" stroke-width="1.0"/>
<text x="296.90" y="506.28" font-size="8.9" text-anchor="end" stroke="#1e1e1e" stroke-width="0.12">40</text>
<line x1="299.60" y1="476.42" x2="303.10" y2="476.42" stroke="#1a1a1a" stroke-width="1.0"/>
<text x="296.90" y="479.52" font-size="8.9" text-anchor="end" stroke="#1e1e1e" stroke-width="0.12">60</text>
<line x1="299.60" y1="449.66" x2="303.10" y2="449.66" stroke="#1a1a1a" stroke-width="1.0"/>
<text x="296.90" y="452.76" font-size="8.9" text-anchor="end" stroke="#1e1e1e" stroke-width="0.12">80</text>
<line x1="299.60" y1="422.90" x2="303.10" y2="422.90" stroke="#1a1a1a" stroke-width="1.0"/>
<text x="296.90" y="426.00" font-size="8.9" text-anchor="end" stroke="#1e1e1e" stroke-width="0.12">100</text>
<text transform="translate(275.60,488.50) rotate(-90)" font-size="10.6" text-anchor="middle" textLength="91.5" lengthAdjust="spacingAndGlyphs" stroke="#1e1e1e" stroke-width="0.12">Donor chimerism (%)</text>
<rect x="312.00" y="411.30" width="35.50" height="26.40" fill="none" stroke="#111" stroke-width="1.0"/>
<circle cx="317.90" cy="418.10" r="1.7" fill="none" stroke="#333" stroke-width="1.0"/>
<text x="322.50" y="420.80" font-size="8.0" stroke="#1e1e1e" stroke-width="0.12">Ctrl</text>
<circle cx="317.90" cy="430.20" r="2.0" fill="#4a0a18"/>
<text x="322.50" y="432.90" font-size="8.0" stroke="#1e1e1e" stroke-width="0.12">IFN-α</text>
<line x1="311.20" y1="556.70" x2="320.60" y2="556.70" stroke="#111" stroke-width="1.5"/>
<line x1="323.30" y1="556.70" x2="332.70" y2="556.70" stroke="#111" stroke-width="1.5"/>
<line x1="335.40" y1="556.70" x2="344.80" y2="556.70" stroke="#111" stroke-width="1.5"/>
<circle cx="316.50" cy="510.27" r="1.7" fill="none" stroke="#333" stroke-width="1.0"/>
<circle cx="328.10" cy="548.67" r="1.7" fill="none" stroke="#333" stroke-width="1.0"/>
<circle cx="340.20" cy="552.69" r="1.7" fill="none" stroke="#333" stroke-width="1.0"/>
<line x1="363.65" y1="519.91" x2="363.65" y2="471.87" stroke="#1a1a1a" stroke-width="1.3" stroke-dasharray="1.5,1.0"/>
<line x1="360.40" y1="471.87" x2="366.90" y2="471.87" stroke="#1a1a1a" stroke-width="1.5"/>
<rect x="359.10" y="519.91" width="9.10" height="36.79" fill="#a30a2c"/>
<line x1="359.10" y1="556.43" x2="368.20" y2="556.43" stroke="#3d0010" stroke-width="1.6"/>
<line x1="375.10" y1="522.58" x2="375.10" y2="508.26" stroke="#1a1a1a" stroke-width="1.3" stroke-dasharray="1.5,1.0"/>
<line x1="371.85" y1="508.26" x2="378.35" y2="508.26" stroke="#1a1a1a" stroke-width="1.5"/>
<rect x="370.40" y="522.58" width="9.40" height="34.12" fill="#a30a2c"/>
<line x1="370.40" y1="556.43" x2="379.80" y2="556.43" stroke="#3d0010" stroke-width="1.6"/>
<line x1="387.20" y1="541.45" x2="387.20" y2="525.93" stroke="#1a1a1a" stroke-width="1.3" stroke-dasharray="1.5,1.0"/>
<line x1="383.95" y1="525.93" x2="390.45" y2="525.93" stroke="#1a1a1a" stroke-width="1.5"/>
<rect x="382.50" y="541.45" width="9.40" height="15.25" fill="#a30a2c"/>
<line x1="382.50" y1="556.43" x2="391.90" y2="556.43" stroke="#3d0010" stroke-width="1.6"/>
<circle cx="375.80" cy="467.30" r="2.0" fill="#4a0a18"/>
<circle cx="387.90" cy="464.70" r="2.0" fill="#4a0a18"/>
<line x1="308.50" y1="501.50" x2="350.20" y2="501.50" stroke="#1a1a1a" stroke-width="1.1"/>
<line x1="329.50" y1="502.00" x2="329.50" y2="449.80" stroke="#1a1a1a" stroke-width="1.1"/>
<line x1="329.00" y1="449.80" x2="382.50" y2="449.80" stroke="#1a1a1a" stroke-width="1.1"/>
<line x1="382.50" y1="449.30" x2="382.50" y2="453.60" stroke="#1a1a1a" stroke-width="1.1"/>
<line x1="359.60" y1="453.60" x2="401.50" y2="453.60" stroke="#1a1a1a" stroke-width="1.1"/>
<circle cx="354.80" cy="446.10" r="1.2" fill="#1a1a1a"/>
<line x1="406.10" y1="556.70" x2="415.00" y2="556.70" stroke="#111" stroke-width="1.5"/>
<line x1="417.70" y1="556.70" x2="427.10" y2="556.70" stroke="#111" stroke-width="1.5"/>
<line x1="429.80" y1="556.70" x2="439.20" y2="556.70" stroke="#111" stroke-width="1.5"/>
<line x1="422.40" y1="554.02" x2="422.40" y2="550.01" stroke="#1a1a1a" stroke-width="1.3" stroke-dasharray="1.5,1.0"/>
<line x1="419.90" y1="550.01" x2="424.90" y2="550.01" stroke="#1a1a1a" stroke-width="1.5"/>
<rect x="417.90" y="554.02" width="9.00" height="2.68" fill="#cfcfcf"/>
<line x1="417.90" y1="556.43" x2="426.90" y2="556.43" stroke="#111" stroke-width="1.6"/>
<line x1="402.90" y1="504.20" x2="444.10" y2="504.20" stroke="#1a1a1a" stroke-width="1.1"/>
<line x1="423.60" y1="504.70" x2="423.60" y2="428.30" stroke="#1a1a1a" stroke-width="1.1"/>
<line x1="423.10" y1="428.30" x2="469.70" y2="428.30" stroke="#1a1a1a" stroke-width="1.1"/>
<line x1="469.70" y1="427.80" x2="469.70" y2="442.80" stroke="#1a1a1a" stroke-width="1.1"/>
<line x1="447.30" y1="442.80" x2="489.00" y2="442.80" stroke="#1a1a1a" stroke-width="1.1"/>
<circle cx="442.20" cy="424.20" r="1.2" fill="#1a1a1a"/>
<circle cx="446.40" cy="424.20" r="1.2" fill="#1a1a1a"/>
<circle cx="450.60" cy="424.20" r="1.2" fill="#1a1a1a"/>
<line x1="457.95" y1="470.67" x2="457.95" y2="459.03" stroke="#1a1a1a" stroke-width="1.3" stroke-dasharray="1.5,1.0"/>
<line x1="455.45" y1="459.03" x2="460.45" y2="459.03" stroke="#1a1a1a" stroke-width="1.5"/>
<line x1="457.95" y1="539.98" x2="457.95" y2="556.70" stroke="#1a1a1a" stroke-width="1.3" stroke-dasharray="1.5,1.0"/>
<line x1="455.45" y1="556.70" x2="460.45" y2="556.70" stroke="#1a1a1a" stroke-width="1.5"/>
<rect x="453.10" y="470.67" width="9.70" height="69.31" fill="#a30a2c"/>
<line x1="453.10" y1="503.18" x2="462.80" y2="503.18" stroke="#3d0010" stroke-width="1.6"/>
<line x1="469.80" y1="471.87" x2="469.80" y2="449.39" stroke="#1a1a1a" stroke-width="1.3" stroke-dasharray="1.5,1.0"/>
<line x1="467.30" y1="449.39" x2="472.30" y2="449.39" stroke="#1a1a1a" stroke-width="1.5"/>
<line x1="469.80" y1="529.81" x2="469.80" y2="556.70" stroke="#1a1a1a" stroke-width="1.3" stroke-dasharray="1.5,1.0"/>
<line x1="467.30" y1="556.70" x2="472.30" y2="556.70" stroke="#1a1a1a" stroke-width="1.5"/>
<rect x="464.80" y="471.87" width="10.00" height="57.94" fill="#a30a2c"/>
<line x1="464.80" y1="498.50" x2="474.80" y2="498.50" stroke="#3d0010" stroke-width="1.6"/>
<line x1="481.65" y1="475.35" x2="481.65" y2="455.95" stroke="#1a1a1a" stroke-width="1.3" stroke-dasharray="1.5,1.0"/>
<line x1="479.15" y1="455.95" x2="484.15" y2="455.95" stroke="#1a1a1a" stroke-width="1.5"/>
<line x1="481.65" y1="533.29" x2="481.65" y2="556.70" stroke="#1a1a1a" stroke-width="1.3" stroke-dasharray="1.5,1.0"/>
<line x1="479.15" y1="556.70" x2="484.15" y2="556.70" stroke="#1a1a1a" stroke-width="1.5"/>
<rect x="476.80" y="475.35" width="9.70" height="57.94" fill="#a30a2c"/>
<line x1="476.80" y1="502.24" x2="486.50" y2="502.24" stroke="#3d0010" stroke-width="1.6"/>
<line x1="312.20" y1="562.40" x2="488.00" y2="562.40" stroke="#1a1a1a" stroke-width="1.2"/>
<line x1="315.90" y1="562.40" x2="315.90" y2="565.00" stroke="#1a1a1a" stroke-width="1.0"/>
<text x="315.90" y="576.00" font-size="8.2" text-anchor="middle" stroke="#1e1e1e" stroke-width="0.12">6</text>
<line x1="328.00" y1="562.40" x2="328.00" y2="565.00" stroke="#1a1a1a" stroke-width="1.0"/>
<text x="328.00" y="576.00" font-size="8.2" text-anchor="middle" stroke="#1e1e1e" stroke-width="0.12">12</text>
<line x1="340.10" y1="562.40" x2="340.10" y2="565.00" stroke="#1a1a1a" stroke-width="1.0"/>
<text x="340.10" y="576.00" font-size="8.2" text-anchor="middle" stroke="#1e1e1e" stroke-width="0.12">16</text>
<line x1="363.60" y1="562.40" x2="363.60" y2="565.00" stroke="#1a1a1a" stroke-width="1.0"/>
<text x="363.60" y="576.00" font-size="8.2" text-anchor="middle" stroke="#1e1e1e" stroke-width="0.12">6</text>
<line x1="375.10" y1="562.40" x2="375.10" y2="565.00" stroke="#1a1a1a" stroke-width="1.0"/>
<text x="375.10" y="576.00" font-size="8.2" text-anchor="middle" stroke="#1e1e1e" stroke-width="0.12">12</text>
<line x1="387.20" y1="562.40" x2="387.20" y2="565.00" stroke="#1a1a1a" stroke-width="1.0"/>
<text x="387.20" y="576.00" font-size="8.2" text-anchor="middle" stroke="#1e1e1e" stroke-width="0.12">16</text>
<line x1="410.50" y1="562.40" x2="410.50" y2="565.00" stroke="#1a1a1a" stroke-width="1.0"/>
<text x="410.50" y="576.00" font-size="8.2" text-anchor="middle" stroke="#1e1e1e" stroke-width="0.12">6</text>
<line x1="422.40" y1="562.40" x2="422.40" y2="565.00" stroke="#1a1a1a" stroke-width="1.0"/>
<text x="422.40" y="576.00" font-size="8.2" text-anchor="middle" stroke="#1e1e1e" stroke-width="0.12">12</text>
<line x1="434.50" y1="562.40" x2="434.50" y2="565.00" stroke="#1a1a1a" stroke-width="1.0"/>
<text x="434.50" y="576.00" font-size="8.2" text-anchor="middle" stroke="#1e1e1e" stroke-width="0.12">16</text>
<line x1="457.90" y1="562.40" x2="457.90" y2="565.00" stroke="#1a1a1a" stroke-width="1.0"/>
<text x="457.90" y="576.00" font-size="8.2" text-anchor="middle" stroke="#1e1e1e" stroke-width="0.12">6</text>
<line x1="469.80" y1="562.40" x2="469.80" y2="565.00" stroke="#1a1a1a" stroke-width="1.0"/>
<text x="469.80" y="576.00" font-size="8.2" text-anchor="middle" stroke="#1e1e1e" stroke-width="0.12">12</text>
<line x1="481.60" y1="562.40" x2="481.60" y2="565.00" stroke="#1a1a1a" stroke-width="1.0"/>
<text x="481.60" y="576.00" font-size="8.2" text-anchor="middle" stroke="#1e1e1e" stroke-width="0.12">16</text>
<text x="399.90" y="590.20" font-size="10.0" text-anchor="middle" textLength="27.3" lengthAdjust="spacingAndGlyphs" stroke="#1e1e1e" stroke-width="0.12">Weeks</text>
<line x1="312.20" y1="596.30" x2="394.20" y2="596.30" stroke="#111" stroke-width="1.5"/>
<line x1="406.30" y1="596.30" x2="487.90" y2="596.30" stroke="#111" stroke-width="1.5"/>
<text x="353.00" y="607.80" font-size="8.6" text-anchor="middle" textLength="37.5" lengthAdjust="spacingAndGlyphs" stroke="#1e1e1e" stroke-width="0.12">+/+ or +/–</text>
<text x="447.50" y="607.80" font-size="8.6" text-anchor="middle" stroke="#1e1e1e" stroke-width="0.12">–/–</text>
<rect x="0.50" y="0.50" width="519.00" height="616.00" fill="none" stroke="#111" stroke-width="1.2"/>
</svg>
</body></html>
